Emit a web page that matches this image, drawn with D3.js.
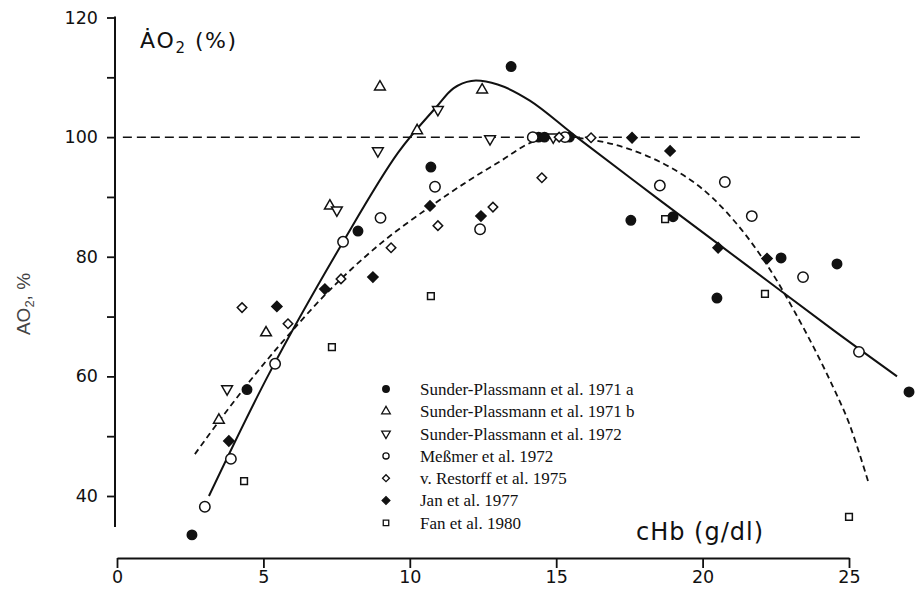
<!DOCTYPE html>
<html>
<head>
<meta charset="utf-8">
<script src="https://cdn.jsdelivr.net/npm/d3@7"></script>
<style>
  body { margin: 0; background: #fff; }
  svg { display: block; }
</style>
</head>
<body>
<svg id="chart" width="917" height="589"></svg>
<script>
// data: [cHb g/dl, AO2 %]
const sp71a = [[2.56,33.5],[4.44,57.8],[8.23,84.3],[10.72,95.0],[13.46,111.8],[14.4,100],[14.6,100],[15.45,100],
  [17.55,86.1],[18.99,86.7],[20.49,73.1],[22.68,79.8],[24.59,78.8],[27.05,57.4]];
const sp71b = [[3.48,52.7],[5.09,67.3],[7.27,88.5],[8.98,108.4],[10.25,101.1],[12.47,107.9]];
const sp72 = [[3.76,57.9],[7.51,87.8],[8.91,97.7],[10.96,104.6],[12.74,99.7],[14.9,100]];
const messmer = [[3.0,38.2],[3.89,46.2],[5.40,62.1],[7.72,82.5],[9.0,86.5],[10.86,91.7],[12.4,84.6],[14.2,100],
  [15.3,100],[18.54,91.9],[20.76,92.5],[21.68,86.8],[23.43,76.6],[25.34,64.1]];
const restorff = [[4.27,71.5],[5.84,68.8],[7.65,76.3],[9.36,81.5],[10.96,85.2],[12.84,88.3],[14.51,93.2],[15.1,100],[16.19,99.9]];
const jan = [[3.82,49.2],[5.46,71.7],[7.10,74.6],[8.74,76.6],[10.69,88.5],[12.43,86.8],[17.59,99.9],[18.89,97.7],[20.53,81.5],[22.2,79.7]];
const fan = [[4.34,42.5],[7.34,64.9],[10.72,73.4],[18.72,86.3],[22.13,73.8],[25.0,36.5]];

// fitted curves
const solidCurve = [[3.14,40],[5.2,60.5],[7.7,82.3],[9.6,97.4],[10.9,105],[11.5,108.2],[12.1,109.4],[13.0,108.8],
  [14.1,106.1],[15.7,100],[18.5,89.6],[21.5,78.6],[24.5,67.6],[26.64,60]];
const dashedCurve = [[2.66,47],[3.5,52.6],[4.6,59.6],[5.8,66.6],[7.3,74.6],[9.0,82.2],[10.7,88.4],[12.0,92.7],
  [13.1,96.0],[14.2,99.2],[15.2,100],[16.5,99.3],[17.5,98],[18.65,95.6],[19.6,92.8],[20.35,89.8],[21.2,85.3],
  [21.9,80.8],[22.5,76.3],[23.1,71.2],[23.8,64.8],[24.45,58.3],[25.0,52.2],[25.65,42.5]];
const refLine = [[0.2,100],[25.5,100]];

const xTicks = [0,5,10,15,20,25];
const yTicks = [40,60,80,100,120];
const yMinor = [50,70,90,110];

const legendLabels = ["Sunder-Plassmann et al. 1971 a","Sunder-Plassmann et al. 1971 b","Sunder-Plassmann et al. 1972",
  "Meßmer et al. 1972","v. Restorff et al. 1975","Jan et al. 1977","Fan et al. 1980"];

const svg = d3.select("#chart");
const x = d3.scaleLinear().domain([0,25]).range([117,849]);
const y = d3.scaleLinear().domain([40,120]).range([496,17.5]);

// y axis
const yAxis = svg.append("g").attr("transform", "translate(115,0)");
yAxis.call(d3.axisLeft(y).tickValues(yTicks).tickSize(8).tickSizeOuter(0))
  .call(g => g.select(".domain").remove());
yAxis.append("g").call(d3.axisLeft(y).tickValues(yMinor).tickSize(8).tickFormat(""))
  .call(g => g.select(".domain").remove());
yAxis.append("line").attr("y1", y(120)-1).attr("y2", y(34.8)).attr("stroke", "#111").attr("stroke-width", 2);
yAxis.selectAll(".tick line").attr("stroke", "#111").attr("stroke-width", 1.8);
yAxis.selectAll(".tick text").attr("x", -17)
  .style("font-family", "'DejaVu Sans', sans-serif").style("font-size", "17.5px").attr("fill", "#111");

// x axis
const xAxis = svg.append("g").attr("transform", "translate(0,558)");
xAxis.call(d3.axisBottom(x).tickValues(xTicks).tickSize(10).tickSizeOuter(0));
xAxis.select(".domain").attr("stroke", "#111").attr("stroke-width", 2.2);
xAxis.selectAll(".tick line").attr("stroke", "#111").attr("stroke-width", 1.8);
xAxis.selectAll(".tick text").attr("y", 13)
  .style("font-family", "'DejaVu Sans', sans-serif").style("font-size", "17.5px").attr("fill", "#111");

// lines
const smooth = d3.line().x(d => x(d[0])).y(d => y(d[1])).curve(d3.curveCatmullRom.alpha(0.5));
svg.append("path").datum(refLine).attr("d", d3.line().x(d => x(d[0])).y(d => y(d[1])))
  .attr("fill", "none").attr("stroke", "#111").attr("stroke-width", 1.5).attr("stroke-dasharray", "9,5");
svg.append("path").datum(dashedCurve).attr("d", smooth)
  .attr("fill", "none").attr("stroke", "#111").attr("stroke-width", 1.8).attr("stroke-dasharray", "6,4");
svg.append("path").datum(solidCurve).attr("d", smooth)
  .attr("fill", "none").attr("stroke", "#111").attr("stroke-width", 2);

// marker styles
const styles = [
  {data: sp71a, type: d3.symbolCircle, size: 70, rot: 0, fill: "#111", lsize: 34},
  {data: sp71b, type: d3.symbolTriangle, size: 50, rot: 0, fill: "#fff", lsize: 32},
  {data: sp72, type: d3.symbolTriangle, size: 50, rot: 180, fill: "#fff", lsize: 32},
  {data: messmer, type: d3.symbolCircle, size: 85, rot: 0, fill: "#fff", lsize: 30},
  {data: restorff, type: d3.symbolSquare, size: 45, rot: 45, fill: "#fff", lsize: 24},
  {data: jan, type: d3.symbolSquare, size: 52, rot: 45, fill: "#111", lsize: 30},
  {data: fan, type: d3.symbolSquare, size: 45, rot: 0, fill: "#fff", lsize: 30}
];

styles.forEach(s => {
  svg.append("g").selectAll("path").data(s.data).join("path")
    .attr("d", d3.symbol().type(s.type).size(s.size))
    .attr("transform", d => `translate(${x(d[0])},${y(d[1])}) rotate(${s.rot})`)
    .attr("fill", s.fill).attr("stroke", "#111").attr("stroke-width", 1.5);
});

// legend
const leg = svg.append("g").attr("transform", "translate(386,389)");
styles.forEach((s, i) => {
  const row = leg.append("g").attr("transform", `translate(0,${i*22.3})`);
  row.append("path").attr("d", d3.symbol().type(s.type).size(s.lsize))
    .attr("transform", `rotate(${s.rot})`)
    .attr("fill", s.fill).attr("stroke", "#111").attr("stroke-width", 1.3);
  row.append("text").attr("x", 34).attr("dy", "0.35em").text(legendLabels[i])
    .style("font-family", "'Liberation Serif', 'Times New Roman', serif").style("font-size", "17px").attr("fill", "#111");
});

// titles
const t1 = svg.append("text").attr("x", 140).attr("y", 48)
  .style("font-family", "'DejaVu Sans', sans-serif").style("font-size", "22px")
  .style("letter-spacing", "1.5px").attr("fill", "#111");
t1.append("tspan").text("ȦO");
t1.append("tspan").text("2").attr("dy", 5).style("font-size", "15px");
t1.append("tspan").text(" (%)").attr("dy", -5);

svg.append("text").attr("x", 636).attr("y", 540).text("cHb (g/dl)")
  .style("font-family", "'DejaVu Sans', sans-serif").style("font-size", "24px")
  .style("letter-spacing", "1px").attr("fill", "#111");

const t3 = svg.append("text").attr("transform", "translate(30,304) rotate(-90)").attr("text-anchor", "middle")
  .style("font-family", "'Liberation Sans', Arial, sans-serif").style("font-size", "19px").attr("fill", "#444");
t3.append("tspan").text("AO");
t3.append("tspan").text("2").attr("dy", 4).style("font-size", "13px");
t3.append("tspan").text(", %").attr("dy", -4);
</script>
</body>
</html>
